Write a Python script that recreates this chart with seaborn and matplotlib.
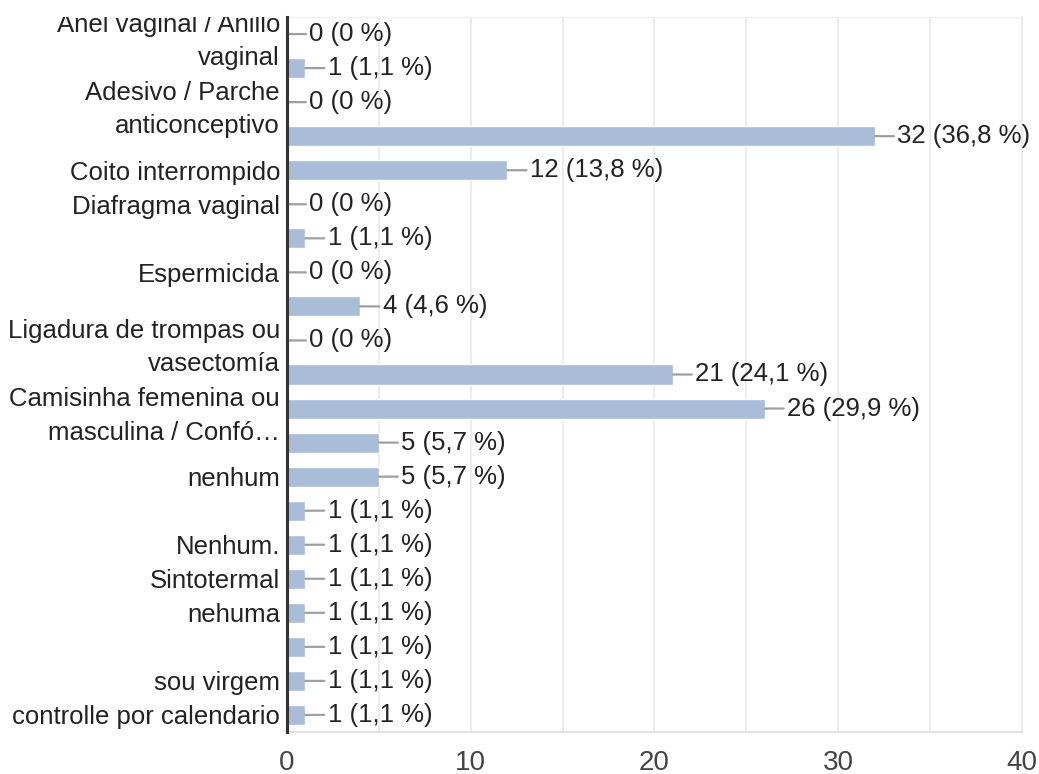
import matplotlib
matplotlib.use("Agg")
import matplotlib.pyplot as plt
from matplotlib.transforms import Bbox, TransformedBbox
import pandas as pd
import seaborn as sns


# answers as they appear top to bottom; blank ones are hidden in the chart
LABELS = [
    "Anel vaginal / Anillo\nvaginal",
    "",
    "Adesivo / Parche\nanticonceptivo",
    "",
    "Coito interrompido",
    "Diafragma vaginal",
    "",
    "Espermicida",
    "",
    "Ligadura de trompas ou\nvasectomía",
    "",
    "Camisinha femenina ou\nmasculina / Confó…",
    "",
    "nenhum",
    "",
    "Nenhum.",
    "Sintotermal",
    "nehuma",
    "",
    "sou virgem",
    "controlle por calendario",
]
COUNTS = [0, 1, 0, 32, 12, 0, 1, 0, 4, 0, 21, 26, 5, 5, 1, 1, 1, 1, 1, 1, 1]
RESPONDENTS = 87

X_TICKS = [0, 10, 20, 30, 40]
X_MINOR = [5, 15, 25, 35]

BAR_COLOR = "#aabdd8"
TEXT_COLOR = "#222222"
LEADER_COLOR = "#9e9e9e"
GRID_COLOR = "#ebebeb"
FONT_SIZE = 18.5


def pct_label(n):
    pct = 100.0 * n / RESPONDENTS
    if n == 0:
        return "0 (0 %)"
    return f"{n} ({pct:.1f} %)".replace(".", ",")


def main():
    sns.set_theme(style="white")
    plt.rcParams["font.family"] = ["Liberation Sans", "DejaVu Sans"]

    df = pd.DataFrame({
        "row": [str(i) for i in range(len(COUNTS))],
        "count": COUNTS,
    })

    fig = plt.figure(figsize=(10.39, 7.74), dpi=100)
    ax = fig.add_axes([0.2762, 0.0543, 0.7074, 0.9237])

    sns.barplot(
        data=df, x="count", y="row", orient="h",
        order=df["row"].tolist(), color=BAR_COLOR, saturation=1,
        width=0.59, ax=ax, zorder=2,
    )

    ax.set_xlim(0, 40)
    ax.set_ylim(len(COUNTS) - 0.5, -0.5)
    ax.set_xticks(X_TICKS)
    ax.set_xticks(X_MINOR, minor=True)
    ax.set_xticklabels([str(t) for t in X_TICKS])
    ax.set_yticks(range(len(LABELS)))
    ax.set_yticklabels(LABELS, linespacing=1.5)
    ax.set_xlabel("")
    ax.set_ylabel("")

    ax.grid(axis="x", which="both", color=GRID_COLOR, lw=1.3, zorder=0)
    ax.grid(axis="y", visible=False)
    ax.set_axisbelow(True)

    ax.tick_params(axis="x", which="both", length=0, pad=13,
                   labelsize=20, labelcolor="#444444")
    ax.tick_params(axis="y", length=0, pad=5, labelsize=FONT_SIZE,
                   labelcolor=TEXT_COLOR)

    ax.spines["left"].set_color("#333333")
    ax.spines["left"].set_linewidth(2.2)
    ax.spines["left"].set_zorder(5)
    ax.spines["bottom"].set_color("#e2e2e2")
    ax.spines["bottom"].set_linewidth(1.6)
    ax.spines["top"].set_color("#f0f0f0")
    ax.spines["top"].set_linewidth(1.0)
    ax.spines["right"].set_color(GRID_COLOR)
    ax.spines["right"].set_linewidth(1.3)

    # clip the category labels at the top of the plot area, like the original
    clip = TransformedBbox(Bbox([[-1.0, -0.2], [1.2, 1.0]]), ax.transAxes)
    for lbl in ax.get_yticklabels():
        lbl.set_clip_box(clip)
        lbl.set_clip_on(True)

    for i, n in enumerate(COUNTS):
        ax.annotate(
            pct_label(n),
            xy=(n, i), xytext=(16, 0), textcoords="offset points",
            ha="left", va="center", fontsize=FONT_SIZE, color=TEXT_COLOR,
            annotation_clip=False, zorder=4,
            arrowprops=dict(arrowstyle="-", color=LEADER_COLOR, lw=1.6,
                            shrinkA=0, shrinkB=0, relpos=(0, 0.5)),
        )

    fig.savefig("out.png", dpi=100)
    plt.close(fig)


if __name__ == "__main__":
    main()
